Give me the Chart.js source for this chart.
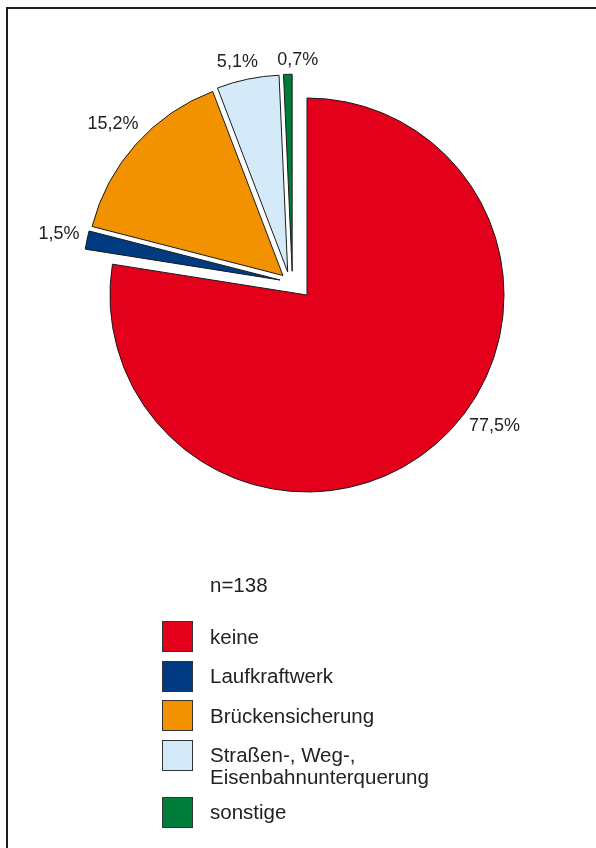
<!DOCTYPE html>
<html><head><meta charset="utf-8">
<script src="https://cdn.jsdelivr.net/npm/chart.js@4"></script>
<style>
html,body{margin:0;padding:0;background:#fff;width:596px;height:848px;overflow:hidden;font-family:"Liberation Sans",Arial,sans-serif;color:#222}
#frame{position:absolute;left:6px;top:7px;width:700px;height:1000px;border-left:2px solid #1e1e1e;border-top:2px solid #1e1e1e}
#c{position:absolute;left:0;top:0}
#note{position:absolute;left:210px;top:573px;font-size:20.5px;line-height:24px}
#legend{position:absolute;left:162px;top:621px}
.item{display:flex;align-items:flex-start;margin-bottom:8.5px}
.box{width:29px;height:29px;border:1px solid #333;flex:none}
.txt{margin-left:17px;padding-top:4.5px;font-size:20.5px;line-height:22px;white-space:nowrap}
</style></head><body>
<div id="frame"></div>
<canvas id="c" width="596" height="848"></canvas>
<div id="note"></div>
<div id="legend"></div>
<script>
const categories = ['keine', 'Laufkraftwerk', 'Brückensicherung', ['Straßen-, Weg-,', 'Eisenbahnunterquerung'], 'sonstige'];
const shares = [77.5, 1.5, 15.2, 5.1, 0.7];
const shareLabels = ['77,5%', '1,5%', '15,2%', '5,1%', '0,7%'];
const sampleNote = 'n=138';
const sliceColors = ['#e2001a', '#003b82', '#f39200', '#d4eaf8', '#007d3a'];

document.getElementById('note').textContent = sampleNote;
const legend = document.getElementById('legend');
categories.forEach((c, i) => {
  const item = document.createElement('div'); item.className = 'item';
  const box = document.createElement('div'); box.className = 'box'; box.style.background = sliceColors[i];
  const txt = document.createElement('div'); txt.className = 'txt';
  (Array.isArray(c) ? c : [c]).forEach((line, k) => {
    if (k) txt.appendChild(document.createElement('br'));
    txt.appendChild(document.createTextNode(line));
  });
  item.appendChild(box); item.appendChild(txt); legend.appendChild(item);
});

const explode = {
  id: 'explode',
  afterDatasetUpdate(chart, args, opts) {
    args.meta.data.forEach((arc, i) => {
      const d = opts.dist[i] || 0; if (!d) return;
      const a = (opts.angle[i] - 90) * Math.PI / 180;
      arc.x += Math.cos(a) * d; arc.y += Math.sin(a) * d;
    });
  }
};

const pieLabels = {
  id: 'pieLabels',
  afterDatasetsDraw(chart, args, opts) {
    const ctx = chart.ctx;
    const meta = chart.getDatasetMeta(0);
    ctx.save();
    ctx.font = opts.font; ctx.fillStyle = opts.color;
    ctx.textAlign = 'center'; ctx.textBaseline = 'middle';
    meta.data.forEach((arc, i) => {
      const p = arc.getProps(['x', 'y', 'startAngle', 'endAngle', 'outerRadius'], true);
      let a = (p.startAngle + p.endAngle) / 2;
      if (opts.angleOverride[i] != null) a = (opts.angleOverride[i] - 90) * Math.PI / 180;
      const txt = shareLabels[i];
      const w = ctx.measureText(txt).width;
      const cx = Math.cos(a), cy = Math.sin(a);
      const ext = Math.abs(cx) * w / 2 + Math.abs(cy) * opts.halfHeight;
      const d = p.outerRadius + opts.gap + ext;
      ctx.fillText(txt, p.x + cx * d, p.y + cy * d);
    });
    ctx.restore();
  }
};

new Chart(document.getElementById('c'), {
  type: 'pie',
  data: {
    labels: categories.map(c => Array.isArray(c) ? c.join(' ') : c),
    datasets: [{
      data: shares,
      backgroundColor: sliceColors,
      borderColor: '#1a1a1a',
      borderWidth: 1,
      borderJoinStyle: 'miter',
      radius: 197
    }]
  },
  options: {
    responsive: false,
    animation: false,
    events: [],
    layout: { padding: { left: 40, right: 22, top: 40, bottom: 298 } },
    plugins: {
      legend: { display: false },
      tooltip: { enabled: false },
      explode: { dist: [0, 31, 31, 30, 28], angle: [0, 299, 309, 320, 328] },
      pieLabels: { font: '18px "Liberation Sans", Arial, sans-serif', color: '#222', gap: 7, halfHeight: 7, angleOverride: { 0: 125, 3: 346.5, 4: 1.5 } }
    }
  },
  plugins: [explode, pieLabels]
});
</script>
</body></html>
